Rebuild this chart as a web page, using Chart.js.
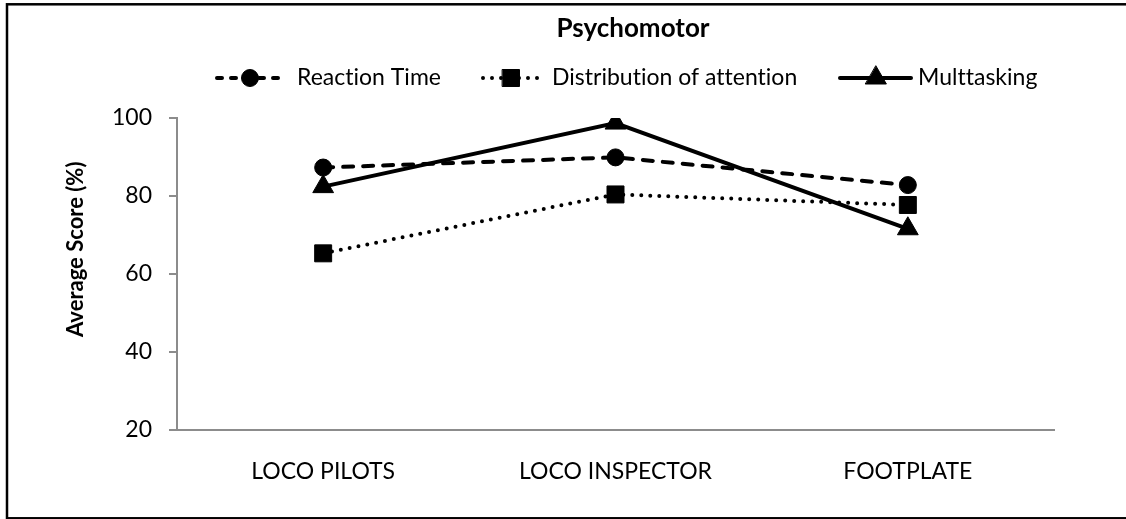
<!DOCTYPE html>
<html>
<head>
<meta charset="utf-8">
<script src="https://cdn.jsdelivr.net/npm/chart.js@4.4.1/dist/chart.umd.min.js"></script>
<style>
  html, body { margin: 0; padding: 0; background: #fff; }
  #wrap { position: relative; width: 1126px; height: 519px; }
</style>
</head>
<body>
<div id="wrap"><canvas id="chart" width="1126" height="519"></canvas></div>
<script>
// values
const chartTitle = 'Psychomotor';
const yTitle = 'Average Score (%)';
const groups = ['LOCO PILOTS', 'LOCO INSPECTOR', 'FOOTPLATE'];
const seriesNames = ['Reaction Time', 'Distribution of attention', 'Multtasking'];
const reactionTime = [87.3, 89.9, 82.8];
const distributionOfAttention = [65.3, 80.4, 77.7];
const multitasking = [82.4, 98.7, 71.6];
const yTicks = [20, 40, 60, 80, 100];

const FONT = 'Lato, "Liberation Sans", sans-serif';
const AXIS = '#8c8c8c';

// legend slots: line sample start/end, marker x, text x
const legendSlots = [
  { x0: 217, x1: 282, mx: 250, tx: 297, dash: [5, 9] },
  { x0: 483, x1: 542, mx: 511, tx: 552, dash: [0, 9] },
  { x0: 840, x1: 911, mx: 876, tx: 918, dash: [] }
];
const legendY = 78;

const decorations = {
  id: 'decorations',
  afterDraw(chart) {
    const ctx = chart.ctx;
    ctx.save();
    // keeps Lato from joining "ti" into a ligature
    if ('letterSpacing' in ctx) ctx.letterSpacing = '0.01px';

    // outer frame
    ctx.strokeStyle = '#000';
    ctx.lineWidth = 2.5;
    ctx.strokeRect(7, 4.3, 1130, 514);

    // title
    ctx.fillStyle = '#000';
    ctx.font = 'bold 26px ' + FONT;
    ctx.textAlign = 'center';
    ctx.textBaseline = 'alphabetic';
    ctx.fillText(chartTitle, 633, 37);

    // legend
    chart.data.datasets.forEach((ds, i) => {
      const s = legendSlots[i];
      ctx.strokeStyle = '#000';
      ctx.fillStyle = '#000';
      ctx.lineWidth = ds.borderWidth;
      ctx.lineCap = 'round';
      ctx.setLineDash(s.dash);
      ctx.beginPath();
      ctx.moveTo(s.x0, legendY);
      ctx.lineTo(s.x1, legendY);
      ctx.stroke();
      ctx.setLineDash([]);
      ctx.lineWidth = ds.pointBorderWidth;
      Chart.helpers.drawPoint(ctx, {
        pointStyle: ds.pointStyle, rotation: 0,
        radius: ds.pointRadius, borderWidth: ds.pointBorderWidth
      }, s.mx, legendY);
      ctx.font = '23px ' + FONT;
      ctx.textAlign = 'left';
      ctx.textBaseline = 'middle';
      ctx.fillText(ds.label, s.tx, legendY);
    });

    // y axis title
    ctx.translate(76, 337);
    ctx.rotate(-Math.PI / 2);
    ctx.font = 'bold 22px ' + FONT;
    ctx.textAlign = 'left';
    ctx.textBaseline = 'middle';
    ctx.fillText(yTitle, 0, 0);

    ctx.restore();
  }
};

const common = {
  borderColor: '#000',
  backgroundColor: '#000',
  pointBackgroundColor: '#000',
  pointBorderColor: '#000',
  borderWidth: 4,
  pointBorderWidth: 1,
  tension: 0,
  fill: false
};

new Chart(document.getElementById('chart'), {
  type: 'line',
  data: {
    labels: groups,
    datasets: [
      Object.assign({}, common, {
        label: seriesNames[0], data: reactionTime,
        borderDash: [10, 10], borderCapStyle: 'round',
        pointStyle: 'circle', pointRadius: 8.5, order: 3
      }),
      Object.assign({}, common, {
        label: seriesNames[1], data: distributionOfAttention,
        borderDash: [0, 9], borderCapStyle: 'round',
        pointStyle: 'rect', pointRadius: 12, order: 2
      }),
      Object.assign({}, common, {
        label: seriesNames[2], data: multitasking,
        borderDash: [], borderCapStyle: 'butt',
        pointStyle: 'triangle', pointRadius: 12, order: 1
      })
    ]
  },
  options: {
    responsive: false,
    animation: false,
    events: [],
    layout: { padding: { top: 118, right: 72, bottom: 0, left: 0 } },
    plugins: {
      legend: { display: false },
      title: { display: false },
      tooltip: { enabled: false }
    },
    scales: {
      x: {
        offset: true,
        afterFit: s => { s.height = 89; },
        grid: { display: false, drawTicks: false },
        border: { display: true, color: AXIS, width: 2 },
        ticks: {
          color: '#000', padding: 28, maxRotation: 0, autoSkip: false,
          font: { family: FONT, size: 23 }
        }
      },
      y: {
        min: yTicks[0],
        max: yTicks[yTicks.length - 1],
        afterFit: s => { s.width = 177; },
        afterBuildTicks: s => { s.ticks = yTicks.map(v => ({ value: v })); },
        grid: {
          display: true, drawOnChartArea: false, drawTicks: true,
          tickLength: 8, color: AXIS, lineWidth: 2
        },
        border: { display: true, color: AXIS, width: 2 },
        ticks: {
          color: '#000', padding: 17,
          font: { family: FONT, size: 23 }
        }
      }
    }
  },
  plugins: [decorations]
});
</script>
</body>
</html>
